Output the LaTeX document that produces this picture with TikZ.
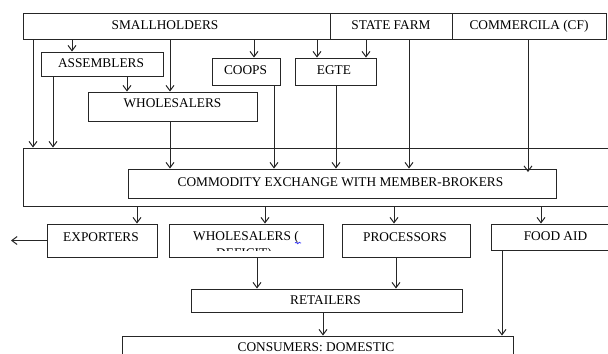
\documentclass[tikz,border=0pt]{standalone}
\usepackage{fontspec}
\setmainfont{Liberation Serif}
\usetikzlibrary{fit,arrows.meta,decorations.pathmorphing}
\begin{document}
\begin{tikzpicture}[x=0.75pt,y=-0.75pt,
	box/.style={draw=black!85,line width=0.75pt,inner sep=0pt},
	lbl/.style={inner sep=0pt},
	arr/.style={draw=black!85,line width=0.75pt,-{Straight Barb[length=4pt,width=6pt]}}]
	\clip (0,0) rectangle (608,354);
	
	% producers
	\node[box,fit={(23,13) (330,39)}] (small) {};
	\node[lbl] (smalltxt) at (165,25.5) {SMALLHOLDERS};
	\node[box,fit={(330,13) (452,39)}] (state) {};
	\node[lbl] (statetxt) at (391,25.5) {STATE FARM};
	\node[box,fit={(452,13) (606,39)}] (commer) {};
	\node[lbl] (commertxt) at (529,26) {COMMERCILA (CF)};
	
	\node[box,fit={(41,52) (163,76)}] (assem) {};
	\node[lbl] (assemtxt) at (101,63.5) {ASSEMBLERS};
	\node[box,fit={(212,58) (280,85)}] (coops) {};
	\node[lbl] (coopstxt) at (245.5,70) {COOPS};
	\node[box,fit={(295,58) (376,85)}] (egte) {};
	\node[lbl] (egtetxt) at (334,70) {EGTE};
	\node[box,fit={(88,92) (257,121)}] (whole) {};
	\node[lbl] (wholetxt) at (172.5,103) {WHOLESALERS};
	
	% exchange
	\node[box,fit={(23,148) (640,206)}] (big) {};
	\node[box,fit={(128,169) (556,198)}] (cex) {};
	\node[lbl] (cextxt) at (340.5,182) {COMMODITY EXCHANGE WITH MEMBER-BROKERS};
	
	% buyers
	\node[box,fit={(47,224) (157,257)}] (expo) {};
	\node[lbl] (expotxt) at (101,237) {EXPORTERS};
	\node[box,fit={(169,224) (323,257)}] (wdef) {};
	\node[lbl] (wdeftxt) at (246,237) {WHOLESALERS (};
	\begin{scope}
		\clip (169,224) rectangle (323,250);
		\node[lbl,anchor=base] (wdeftxt2) at (244,257.5) {DEFICIT)};
	\end{scope}
	\draw[blue!80,line width=0.5pt,decorate,decoration={snake,amplitude=0.6,segment length=2.5}] (295,243) -- (301,243);
	\node[box,fit={(342,224) (470,257)}] (proc) {};
	\node[lbl] (proctxt) at (405,237) {PROCESSORS};
	\node[box,fit={(491,224) (640,250)}] (food) {};
	\node[lbl] (foodtxt) at (555.5,236) {FOOD AID};
	
	\node[box,fit={(191,289) (462,312)}] (ret) {};
	\node[lbl] (rettxt) at (325.5,300) {RETAILERS};
	\node[box,fit={(122,336) (513,380)}] (cons) {};
	\node[lbl] (constxt) at (316,347.5) {CONSUMERS: DOMESTIC};
	\coordinate (exit) at (11,240.5);
	
	% flows
	\draw[arr] (33,0 |- small.south) -- (33,0 |- big.north);
	\draw[arr] (72,0 |- small.south) -- (72,0 |- assem.north);
	\draw[arr] (170,0 |- small.south) -- (170,0 |- whole.north);
	\draw[arr] (254,0 |- small.south) -- (254,0 |- coops.north);
	\draw[arr] (317,0 |- small.south) -- (317,0 |- egte.north);
	\draw[arr] (366,0 |- state.south) -- (366,0 |- egte.north);
	\draw[arr] (53,0 |- assem.south) -- (53,0 |- big.north);
	\draw[arr] (127,0 |- assem.south) -- (127,0 |- whole.north);
	\draw[arr] (170,0 |- whole.south) -- (170,0 |- cex.north);
	\draw[arr] (274,0 |- coops.south) -- (274,0 |- cex.north);
	\draw[arr] (336,0 |- egte.south) -- (336,0 |- cex.north);
	\draw[arr] (409,0 |- state.south) -- (409,0 |- cex.north);
	\draw[arr] (528,0 |- commer.south) -- (528,172);
	
	\draw[arr] (137,0 |- big.south) -- (137,0 |- expo.north);
	\draw[arr] (265,0 |- big.south) -- (265,0 |- wdef.north);
	\draw[arr] (394,0 |- big.south) -- (394,0 |- proc.north);
	\draw[arr] (541,0 |- big.south) -- (541,0 |- food.north);
	\draw[arr] (expo.west) -- (exit);
	
	\draw[arr] (257,0 |- wdef.south) -- (257,0 |- ret.north);
	\draw[arr] (396,0 |- proc.south) -- (396,0 |- ret.north);
	\draw[arr] (323,0 |- ret.south) -- (323,0 |- cons.north);
	\draw[arr] (502,0 |- food.south) -- (502,0 |- cons.north);
\end{tikzpicture}
\end{document}
